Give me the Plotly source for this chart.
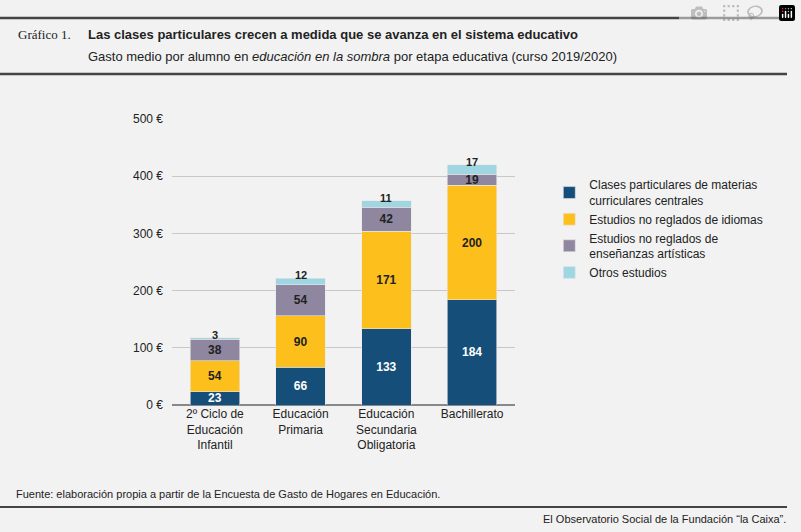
import plotly.graph_objects as go

categories = ["2º Ciclo de<br>Educación<br>Infantil", "Educación<br>Primaria",
              "Educación<br>Secundaria<br>Obligatoria", "Bachillerato"]
clases = [23, 66, 133, 184]
idiomas = [54, 90, 171, 200]
artisticas = [38, 54, 42, 19]
otros = [3, 12, 11, 17]

series = [
    ("Clases particulares de materias<br>curriculares centrales", clases, "#154e78", "white"),
    ("Estudios no reglados de idiomas", idiomas, "#fdbf1c", "#222"),
    ("Estudios no reglados de<br>enseñanzas artísticas", artisticas, "#8f86a0", "#222"),
    ("Otros estudios", otros, "#9fd6e2", "#222"),
]

fig = go.Figure()
for name, vals, color, tcol in series:
    show_text = name != "Otros estudios"
    fig.add_trace(go.Bar(
        x=categories, y=vals, name=name, marker_color=color,
        marker_line=dict(color="#e8e8e8", width=0.6),
        text=[str(v) for v in vals] if show_text else None,
        texttemplate="<b>%{text}</b>" if show_text else None,
        textposition="inside", insidetextanchor="middle", textangle=0,
        textfont=dict(color=tcol, size=12, family="Liberation Sans"),
        hoverinfo="y+name",
    ))

totals = [a + b + c + d for a, b, c, d in zip(clases, idiomas, artisticas, otros)]
for cat, tot, v in zip(categories, totals, otros):
    fig.add_annotation(x=cat, y=tot, text="<b>%d</b>" % v, showarrow=False,
                       yanchor="bottom", yshift=-5,
                       font=dict(size=11, color="#222", family="Liberation Sans"))

fig.update_layout(
    barmode="stack", bargap=0.42,
    width=801, height=532,
    margin=dict(l=172, r=286, t=119, b=127),
    paper_bgcolor="#f2f2f2", plot_bgcolor="#f2f2f2",
    font=dict(family="Liberation Sans", size=12, color="#222"),
    uniformtext=dict(minsize=12, mode="show"),
    legend=dict(x=1.1, y=0.82, xanchor="left", yanchor="top",
                font=dict(size=12), tracegroupgap=6, traceorder="normal",
                itemwidth=30, bgcolor="rgba(0,0,0,0)"),
    showlegend=True,
)
fig.update_yaxes(range=[0, 500], tickvals=[0, 100, 200, 300, 400, 500],
                 ticktext=["0 €", "100 €", "200 €", "300 €", "400 €", "500 €"],
                 gridcolor="#c8c8c8", gridwidth=1, zeroline=True, zerolinecolor="#888",
                 zerolinewidth=1.5, ticks="", ticklabelstandoff=8, fixedrange=True)
fig.update_xaxes(tickfont=dict(size=12), fixedrange=True)

# header / footer rules
for y, w in [(18, 2.5), (74, 2.5), (507, 2)]:
    fig.add_shape(type="line", xref="paper", yref="paper",
                  x0=-172 / 343, x1=(801 - 14 - 172) / 343,
                  y0=(532 - 127 - y) / 286, y1=(532 - 127 - y) / 286,
                  line=dict(color="#444", width=w))

def px_annot(x, y, text, size, anchor="left", family="Liberation Sans"):
    fig.add_annotation(xref="paper", yref="paper", x=(x - 172) / 343,
                       y=(532 - 127 - y) / 286, text=text, showarrow=False,
                       xanchor=anchor, yanchor="middle",
                       font=dict(size=size, family=family, color="#222"))

px_annot(16, 35, "Gráfico 1.", 13, family="Liberation Serif")
px_annot(86, 35, "<b>Las clases particulares crecen a medida que se avanza en el sistema educativo</b>", 13)
px_annot(86, 56, "Gasto medio por alumno en <i>educación en la sombra</i> por etapa educativa (curso 2019/2020)", 13)
px_annot(14, 494, "Fuente: elaboración propia a partir de la Encuesta de Gasto de Hogares en Educación.", 11)
px_annot(788, 519, "El Observatorio Social de la Fundación “la Caixa”.", 11, anchor="right")

fig.write_html("out.html", post_script="document.body.style.margin='0';")
